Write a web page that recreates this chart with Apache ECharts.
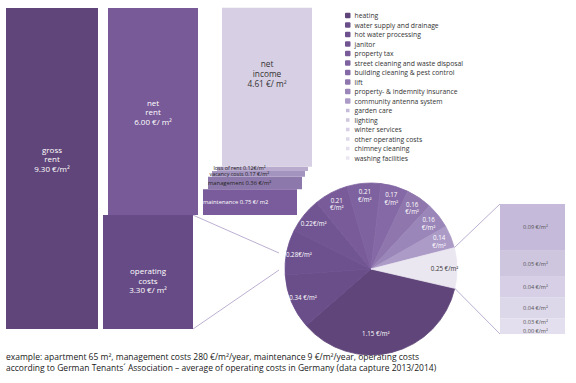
<!DOCTYPE html>
<html><head><meta charset="utf-8">
<script src="https://cdn.jsdelivr.net/npm/echarts@6/dist/echarts.min.js"></script>
<style>html,body{margin:0;padding:0;background:#fff}#c{width:576px;height:383px}</style>
</head><body><div id="c"></div>
<script>
// ---------- data ----------
const rentNames = ['gross rent', 'net rent', 'operating costs'];
const rentValues = [9.30, 6.00, 3.30];
const rentLabels = ['gross\nrent\n9.30 €/m²', 'net\nrent\n6.00 €/ m²', 'operating\ncosts\n3.30 €/ m²'];

const incomeNames = ['maintenance', 'management', 'vacancy costs', 'loss of rent', 'net income'];
const incomeValues = [0.75, 0.36, 0.17, 0.12, 4.61];
const incomeLabels = ['maintenance 0.75 €/ m2', 'management 0.36 €/m²', 'vacancy costs 0.17 €/m²', 'loss of rent 0.12€/m²', 'net\nincome\n4.61 €/ m²'];

const costNames = ['heating', 'water supply and drainage', 'hot water processing', 'janitor', 'property tax',
  'street cleaning and waste disposal', 'building cleaning & pest control', 'lift',
  'property- & indemnity insurance', 'community antenna system'];
const costValues = [1.15, 0.34, 0.28, 0.22, 0.21, 0.21, 0.17, 0.16, 0.16, 0.14];
const costLabels = ['1.15 €/m²', '0.34 €/m²', '0.28€/m²', '0.22€/m²', '0.21\n€/m²', '0.21\n€/m²', '0.17\n€/m²', '0.16\n€/m²', '0.16\n€/m²', '0.14\n€/m²'];

const minorNames = ['garden care', 'lighting', 'winter services', 'other operating costs', 'chimney cleaning', 'washing facilities'];
const minorValues = [0.09, 0.05, 0.04, 0.04, 0.03, 0.00];
const minorLabels = ['0.09 €/m²', '0.05 €/m²', '0.04 €/m²', '0.04 €/m²', '0.03 €/m²', '0.00 €/m²'];
const minorGroupLabel = '0.25 €/m²';

const footnote = 'example: apartment 65 m², management costs 280 €/m²/year, maintenance 9 €/m²/year, operating costs\naccording to German Tenants´ Association – average of operating costs in Germany (data capture 2013/2014)';

// ---------- styles ----------
const FONT = 'Open Sans';
const pieColors = ['#5f4579', '#6a4e8a', '#6d518f', '#715592', '#795b9a', '#7e62a0', '#8569a6', '#8f77ae', '#9b86b9', '#ac9bc7'];
const minorGroupColor = '#ebe7f1';
const minorColors = ['#c5bad9', '#cec5df', '#d6cfe5', '#ddd7ea', '#e4dfee', '#eae6f2'];
const PIE_C = [371, 269], PIE_R = 86, PIE_START = -13;
const RIGHT_GRID = { left: 500, top: 204, width: 65, bottom: 49 };

// block data built from the arrays: [column, low, high]
const blocks = [];
const blockLabels = [];
blocks.push([0, 0, rentValues[0]]); blockLabels.push(rentLabels[0]);
blocks.push([1, rentValues[2], rentValues[2] + rentValues[1]]); blockLabels.push(rentLabels[1]);
blocks.push([1, 0, rentValues[2]]); blockLabels.push(rentLabels[2]);
let base = rentValues[2];
incomeValues.forEach((v, i) => { blocks.push([2, base, base + v]); blockLabels.push(incomeLabels[i]); base += v; });

// per-block style (same order as blocks)
const blockStyles = [
  { color: '#5f4579', dx: -1, w: 92, fill: '#fff', fs: 8, lh: 9.5, ty: -10, align: 'center' },
  { color: '#785a98', dx: -6, w: 90, fill: '#fff', fs: 8, lh: 9.5, ty: 0, align: 'center' },
  { color: '#674b86', dx: -11, w: 90, fill: '#fff', fs: 8, lh: 9.5, ty: 8, align: 'center' },
  { color: '#7a5c9c', dx: -15, w: 94, fill: '#fff', fs: 5.8, lh: 7, ty: 0, align: 'left', tx: -47 },
  { color: '#8d78ab', dx: -10, w: 94, fill: '#222', fs: 5.8, lh: 7, ty: 0, align: 'left', tx: -47 },
  { color: '#a393bf', dx: -6.5, w: 93, fill: '#222', fs: 5.4, lh: 5, ty: 0.6, align: 'left', tx: -49 },
  { color: '#b9abcd', dx: -2.5, w: 91, fill: '#222', fs: 5.4, lh: 5, ty: -1.2, align: 'left', tx: -49 },
  { color: '#d7cfe3', dx: 2, w: 90, fill: '#333', fs: 8.3, lh: 10, ty: -14, align: 'center' }
];

const minorSum = minorValues.reduce((a, b) => a + b, 0);
const costTotal = costValues.reduce((a, b) => a + b, 0) + minorSum;

const chart = echarts.init(document.getElementById('c'), null, { renderer: 'svg' });

const sliceStyle = c => ({ color: c, borderColor: c, borderWidth: 0.8 });
const pieData = costNames.map((n, i) => ({ name: n, value: costValues[i], itemStyle: sliceStyle(pieColors[i]) }))
  .concat([{ name: 'remaining operating costs', value: minorSum, itemStyle: sliceStyle(minorGroupColor) }]);
const pieLabelTexts = costLabels.concat([minorGroupLabel]);

const minorSeries = [];
for (let i = minorNames.length - 1; i >= 0; i--) {
  let off = [3, 0];
  if (i === minorNames.length - 1) off = [3, -3];
  if (i === minorNames.length - 2) off = [3, -3.8];
  minorSeries.push({
    type: 'bar', name: minorNames[i], xAxisIndex: 1, yAxisIndex: 1, stack: 'minor',
    barWidth: '100%', silent: true, data: [minorValues[i]],
    itemStyle: { color: minorColors[i], borderWidth: 0 },
    label: { show: true, position: 'inside', formatter: minorLabels[i], fontSize: 5.6, fontFamily: FONT, color: '#555', offset: off, textBorderWidth: 0, lineHeight: 6 }
  });
}

chart.setOption({
  animation: false,
  backgroundColor: '#fff',
  grid: [
    { left: 0, width: 318, top: 8, bottom: 54 },
    RIGHT_GRID
  ],
  xAxis: [
    { type: 'category', gridIndex: 0, data: ['a', 'b', 'c'], show: false },
    { type: 'category', gridIndex: 1, data: ['minor'], show: false }
  ],
  yAxis: [
    { type: 'value', gridIndex: 0, min: 0, max: 9.30, show: false },
    { type: 'value', gridIndex: 1, min: 0, max: 0.25, show: false }
  ],
  legend: {
    orient: 'vertical', left: 345, top: 12, padding: 0,
    icon: 'rect', itemWidth: 3.5, itemHeight: 3.5, itemGap: 2.5,
    selectedMode: false,
    textStyle: { fontSize: 6.8, fontFamily: FONT, color: '#333', lineHeight: 7 },
    data: costNames.concat(minorNames)
  },
  series: [
    {
      type: 'custom', xAxisIndex: 0, yAxisIndex: 0, silent: true,
      data: blocks,
      renderItem: function (params, api) {
        const i = params.dataIndex;
        const s = blockStyles[i];
        const cat = api.value(0);
        const pLo = api.coord([cat, api.value(1)]);
        const pHi = api.coord([cat, api.value(2)]);
        const cx = pLo[0] + s.dx;
        const x = cx - s.w / 2;
        const ym = (pLo[1] + pHi[1]) / 2 + s.ty;
        return {
          type: 'group',
          children: [
            { type: 'rect', shape: { x: x, y: pHi[1], width: s.w, height: pLo[1] - pHi[1] }, style: { fill: s.color }, z2: 0 },
            {
              type: 'text', z2: 10,
              style: {
                text: blockLabels[i], x: s.align === 'left' ? cx + s.tx : cx, y: ym,
                fill: s.fill, fontSize: s.fs, fontFamily: FONT, lineHeight: s.lh,
                align: s.align, verticalAlign: 'middle'
              }
            }
          ]
        };
      }
    },
    {
      type: 'pie', center: PIE_C, radius: PIE_R, startAngle: PIE_START, clockwise: true, silent: true,
      avoidLabelOverlap: false, padAngle: 0,
      label: { show: false }, labelLine: { show: false },
      data: pieData
    },
    {
      type: 'pie', center: PIE_C, radius: [PIE_R * 0.64, PIE_R], startAngle: PIE_START, clockwise: true, silent: true,
      avoidLabelOverlap: false, padAngle: 0,
      itemStyle: { color: 'rgba(0,0,0,0)', borderWidth: 0, borderColor: 'rgba(0,0,0,0)' },
      labelLine: { show: false },
      label: {
        show: true, position: 'inside', fontSize: 6.2, fontFamily: FONT, color: '#fff', lineHeight: 7.5,
        textBorderWidth: 0, align: 'center',
        formatter: p => pieLabelTexts[p.dataIndex]
      },
      data: pieData.map((d, i) => ({
        name: 'lbl' + i, value: d.value,
        label: i === 0 ? { offset: [-13, -7] } : (i === pieData.length - 1 ? { color: '#333' } : {})
      }))
    }
  ].concat(minorSeries)
});

// connector lines and footnote, positioned from the laid-out chart
const opTop = chart.convertToPixel({ gridIndex: 0 }, [1, rentValues[2]]);
const opBot = chart.convertToPixel({ gridIndex: 0 }, [1, 0]);
const opRight = opTop[0] + blockStyles[2].dx + blockStyles[2].w / 2;
const rTop = chart.convertToPixel({ gridIndex: 1 }, [0, minorSum]);
const rBot = chart.convertToPixel({ gridIndex: 1 }, [0, 0]);
const rLeft = RIGHT_GRID.left;
const a0 = PIE_START * Math.PI / 180;
const a1 = (PIE_START + 360 * minorSum / costTotal) * Math.PI / 180;
const edge = a => [PIE_C[0] + PIE_R * Math.cos(a), PIE_C[1] - PIE_R * Math.sin(a)];
const e0 = edge(a0), e1 = edge(a1);
const lineStyle = { stroke: '#bcb0d2', lineWidth: 1 };

chart.setOption({
  graphic: [
    { type: 'line', shape: { x1: opRight, y1: opTop[1], x2: PIE_C[0] - PIE_R - 6, y2: PIE_C[1] - 16 }, style: lineStyle, silent: true },
    { type: 'line', shape: { x1: opRight, y1: opBot[1], x2: PIE_C[0] - PIE_R - 6, y2: PIE_C[1] + 1 }, style: lineStyle, silent: true },
    { type: 'line', shape: { x1: e1[0], y1: e1[1], x2: rLeft, y2: rTop[1] }, style: lineStyle, silent: true },
    { type: 'line', shape: { x1: e0[0], y1: e0[1], x2: rLeft, y2: rBot[1] }, style: lineStyle, silent: true },
    { type: 'text', left: 6, top: 351, silent: true,
      style: { text: footnote, fontSize: 8.5, fontFamily: FONT, fill: '#1a1a1a', lineHeight: 11 } }
  ]
});
</script>
</body></html>
